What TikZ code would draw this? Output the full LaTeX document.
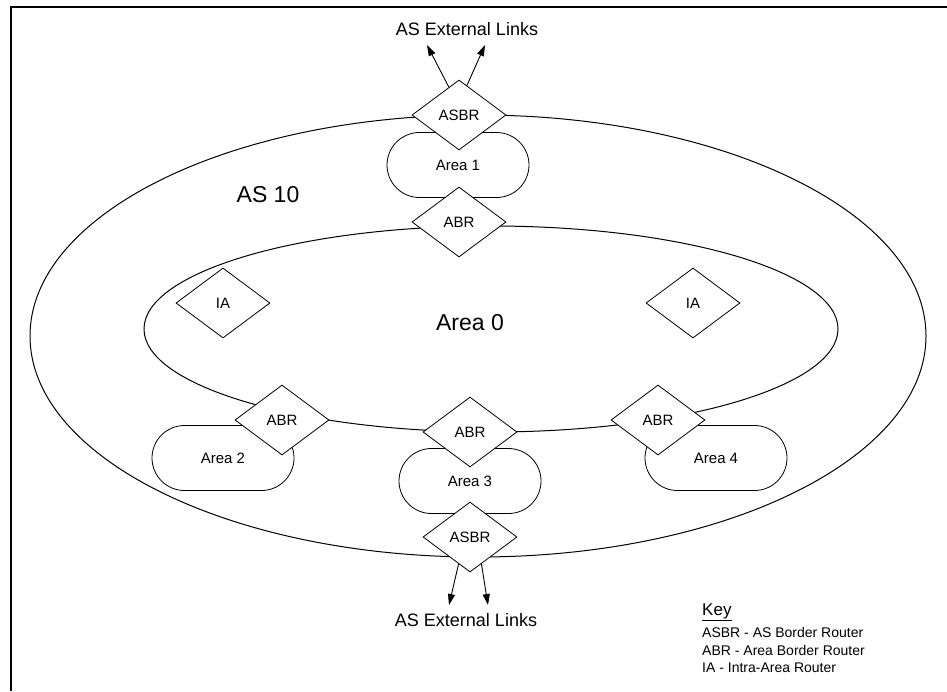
\documentclass[tikz,border=0pt]{standalone}
\usepackage{fontspec}
\setmainfont{Liberation Sans}
\usetikzlibrary{arrows.meta, positioning, calc, shapes.geometric}

\begin{document}
\begin{tikzpicture}[
  x=1pt, y=-1pt,
  % ---- styles ----
  zone/.style = {
    ellipse, draw=black, line width=1pt,
    inner sep=0pt
  },
  area/.style = {
    rectangle, draw=black, fill=white, line width=0.8pt,
    rounded corners=32.5pt,
    minimum width=142pt, minimum height=65pt,
    font=\fontsize{15}{18}\selectfont
  },
  router/.style = {
    diamond, draw=black, fill=white, line width=0.8pt,
    minimum width=94pt, minimum height=70pt, inner sep=0pt,
    font=\fontsize{15}{18}\selectfont
  },
  biglabel/.style = {font=\fontsize{23}{26}\selectfont},
  extlabel/.style = {font=\fontsize{18}{21}\selectfont},
  keytitle/.style = {font=\fontsize{17}{20}\selectfont, anchor=west, inner sep=0pt},
  keyline/.style = {font=\fontsize{14}{17}\selectfont, anchor=west, inner sep=0pt},
  link/.style = {-{Triangle[length=11pt, width=7pt]}, line width=0.9pt}
]
\useasboundingbox (0,0) rectangle (947,691);

% ============ AREAS ============

% --- AS 10 and the backbone ---
\node[zone, minimum width=896pt, minimum height=442pt] (asTen) at (478,336) {};
\node[zone, minimum width=694pt, minimum height=206pt] (areaZero) at (491,329) {};
\node[biglabel] (asTenLabel) at (268,195) {AS 10};
\node[biglabel] (areaZeroLabel) at (470,323) {Area 0};

% --- stub areas ---
\node[area] (areaOne)   at (458,165) {Area 1};
\node[area] (areaTwo)   at (223,458) {Area 2};
\node[area] (areaThree) at (470,481) {Area 3};
\node[area] (areaFour)  at (716,458) {Area 4};

% ============ ROUTERS ============

\node[router] (asbrTop)    at (459,115) {ASBR};
\node[router] (abrTop)     at (459,222) {ABR};
\node[router] (iaLeft)     at (223,303) {IA};
\node[router] (iaRight)    at (693,303) {IA};
\node[router] (abrLeft)    at (282,420) {ABR};
\node[router] (abrBottom)  at (470,432) {ABR};
\node[router] (abrRight)   at (658,420) {ABR};
\node[router] (asbrBottom) at (470,537) {ASBR};

% ============ EXTERNAL LINKS ============

\node[extlabel] (extTop)    at (467,29)  {AS External Links};
\node[extlabel] (extBottom) at (466,620) {AS External Links};

\coordinate (tipTopL)    at (427,45);
\coordinate (tipTopR)    at (485,45);
\coordinate (tipBottomL) at (449,605);
\coordinate (tipBottomR) at (488,605);

\draw[link] (asbrTop.110) -- (tipTopL);
\draw[link] (asbrTop.75)  -- (tipTopR);
\draw[link] (asbrBottom.247) -- (tipBottomL);
\draw[link] (asbrBottom.293) -- (tipBottomR);

% ============ KEY ============

\node[keytitle] (key)     at (702,612) {\underline{Key}};
\node[keyline]  (keyAsbr) at (702,632) {ASBR - AS Border Router};
\node[keyline]  (keyAbr)  at (702,650) {ABR - Area Border Router};
\node[keyline]  (keyIa)   at (702,668) {IA - Intra-Area Router};

% frame
\draw[line width=2pt] (11,691) -- (11,7) -- (947,7);

\end{tikzpicture}
\end{document}
